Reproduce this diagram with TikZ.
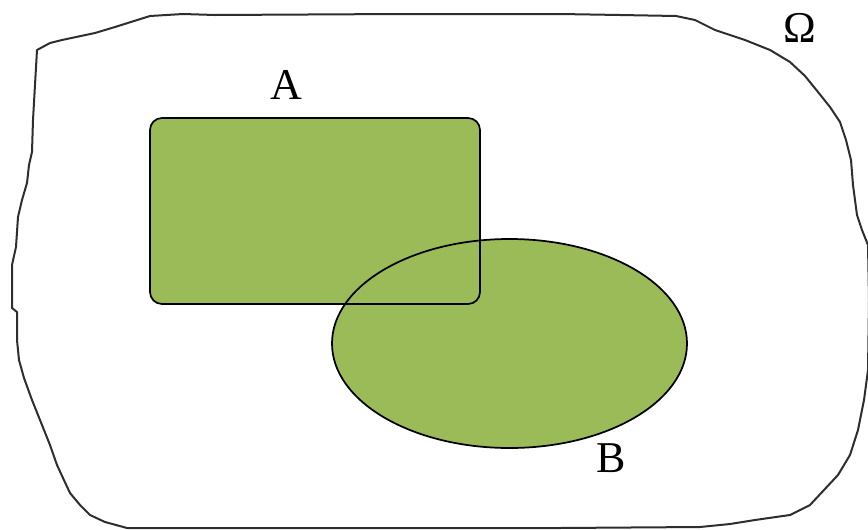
\documentclass[tikz,border=0pt]{standalone}
\usepackage{fontspec}
\setmainfont{Liberation Serif}
\usetikzlibrary{positioning}
\definecolor{SetGreen}{HTML}{9BBB59}
\definecolor{RimGray}{HTML}{2E2E2E}

\begin{document}
\begin{tikzpicture}[x=0.75pt, y=-0.75pt,
    setfill/.style={fill=SetGreen},
    setrim/.style={draw=black, line width=1.3pt},
    universe/.style={draw=RimGray, line width=1.5pt, line join=round},
    setlabel/.style={font=\fontsize{33}{33}\selectfont, inner sep=0pt}
]
\useasboundingbox (0,0) rectangle (868,529);

% Universe outline
\draw[universe] (37,50) -- (50,43) -- (62,40) -- (95,33) -- (115,27) -- (150,16)
    -- (183,14) -- (215,15) -- (400,14) -- (560,14) -- (620,15) -- (676,16)
    -- (695,20) -- (715,30) -- (745,40) -- (770,50) -- (790,62) -- (805,76)
    -- (818,92) -- (830,107) -- (840,122) -- (846,140) -- (851,160) -- (853,185)
    -- (857,215) -- (862,230) -- (868,245) -- (869,300) -- (868,370) -- (864,400)
    -- (858,430) -- (850,455) -- (838,475) -- (810,505) -- (790,515) -- (755,520)
    -- (730,524) -- (700,527) -- (560,528) -- (127,528) -- (105,522) -- (90,515)
    -- (80,505) -- (70,493) -- (63,478) -- (57,465) -- (50,445) -- (42,425)
    -- (32,400) -- (24,378) -- (19,360) -- (17,340) -- (17,312) -- (12,308)
    -- (12,265) -- (16,247) -- (18,217) -- (22,200) -- (27,183) -- (29,165)
    -- (32,152) -- (33,120) -- (35,85) -- cycle;

% Sets A and B
\fill[setfill, rounded corners=9pt] (150,118) rectangle (480,304);
\fill[setfill] (509.5,343.5) ellipse [x radius=177.5, y radius=104.5];
\draw[setrim, rounded corners=9pt] (150,118) rectangle (480,304);
\draw[setrim] (509.5,343.5) ellipse [x radius=177.5, y radius=104.5];

% Labels
\node[setlabel] (labA) at (286,85) {A};
\node[setlabel] (labB) at (611,458) {B};
\node[setlabel] (labOmega) at (800,28) {Ω};

\end{tikzpicture}
\end{document}
